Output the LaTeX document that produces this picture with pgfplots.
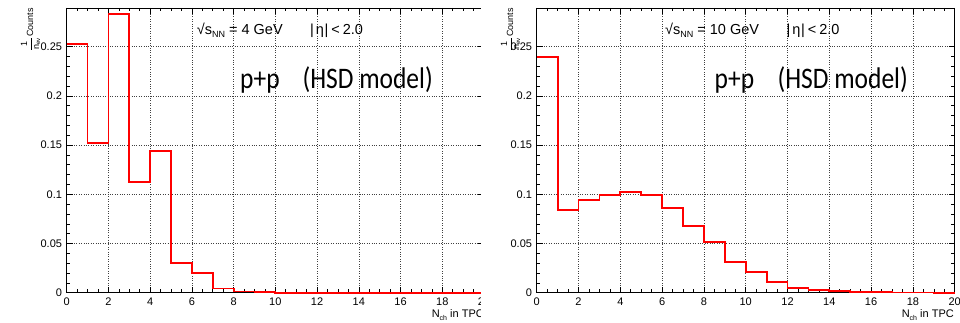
\documentclass[border=0pt]{standalone}
\usepackage{pgfplots}
\pgfplotsset{compat=1.18}
\usepackage{fontspec}
\setmainfont{Liberation Sans}
\newfontfamily\calibri{Carlito}

\pgfplotsset{
  rootstyle/.style={
    scale only axis, height=284.7pt,
    xmin=0, xmax=20, ymin=0, ymax=0.2893,
    axis line style={line width=0.8pt},
    xtick={0,2,4,6,8,10,12,14,16,18,20},
    xticklabels={0,2,4,6,8,10,12,14,16,18,20},
    ytick={0,0.05,0.1,0.15,0.2,0.25},
    yticklabels={0,0.05,0.1,0.15,0.2,0.25},
    minor x tick num=3, minor y tick num=4,
    tick align=inside,
    major tick length=6pt, minor tick length=3.5pt,
    every tick/.style={black, line width=0.6pt},
    grid=major, grid style={dotted, black!75, line width=0.5pt},
    tick label style={font=\fontsize{11}{13}\selectfont},
    xticklabel style={inner sep=0pt, yshift=-5pt},
    yticklabel style={inner sep=0pt, xshift=-4.5pt},
    clip=false,
  }
}
\newcommand{\ylab}{$\displaystyle\frac{\mathrm{1}}{\mathrm{n_{ev}}}$Counts}
\newcommand{\xlab}{N\raisebox{-2.5pt}{\fontsize{7}{7}\selectfont ch} in TPC}
\newcommand{\etalab}{|\hspace{2pt}η\hspace{0.5pt}|\hspace{3pt}<\hspace{3pt}2.0}
\newcommand{\tallbox}[1]{\scalebox{1}[1.17]{#1}}

\begin{document}
\begin{tikzpicture}
\path[use as bounding box] (0,0) rectangle (960pt,322pt);

% ---------------- left panel ----------------
\begin{axis}[rootstyle, width=417.3pt, at={(66.7pt,29.3pt)}, anchor=south west]
\addplot[const plot, red, line width=1.8pt] coordinates {
(0,0.253) (1,0.152) (2,0.2835) (3,0.1125) (4,0.144) (5,0.0302) (6,0.0200)
(7,0.0042) (8,0.0012) (9,0.0008) (10,0) (20,0)};
\end{axis}
\node[rotate=90, anchor=base east, inner sep=0pt, font=\fontsize{9}{10}\selectfont] at (33pt,314pt) {\ylab};
\node[anchor=base west, inner sep=0pt, font=\fontsize{14.5}{16}\selectfont] at (196.7pt,287.5pt) {√s\raisebox{-3pt}{\fontsize{9}{9}\selectfont NN} = 4 GeV};
\node[anchor=base west, inner sep=0pt, font=\fontsize{14.5}{16}\selectfont] at (310pt,287.5pt) {\etalab};
\node[anchor=base west, inner sep=0pt, font=\calibri\fontsize{25.5}{30}\selectfont] at (240pt,233.7pt) {\tallbox{p+p}};
\node[anchor=base east, inner sep=0pt, font=\calibri\fontsize{25.5}{30}\selectfont] at (433pt,233.7pt) {\tallbox{(HSD model)}};
\node[anchor=base east, inner sep=0pt, font=\fontsize{11}{13}\selectfont] at (484pt,4.5pt) {\xlab};

\fill[white] (481pt,0) rectangle (960pt,322pt);

% ---------------- right panel ----------------
\begin{axis}[rootstyle, width=418pt, at={(536.7pt,29.3pt)}, anchor=south west]
\addplot[const plot, red, line width=1.8pt] coordinates {
(0,0.2395) (1,0.0844) (2,0.0942) (3,0.0993) (4,0.1023) (5,0.0990) (6,0.0860)
(7,0.0680) (8,0.0518) (9,0.0315) (10,0.0207) (11,0.0109) (12,0.0051)
(13,0.0024) (14,0.0014) (15,0.0010) (16,0.0008) (17,0.0003) (18,0.0002)
(19,0.0001) (20,0.0001)};
\end{axis}
\node[rotate=90, anchor=base east, inner sep=0pt, font=\fontsize{9}{10}\selectfont] at (513pt,314pt) {\ylab};
\node[anchor=base west, inner sep=0pt, font=\fontsize{14.5}{16}\selectfont] at (665pt,287.5pt) {√s\raisebox{-3pt}{\fontsize{9}{9}\selectfont NN} = 10 GeV};
\node[anchor=base west, inner sep=0pt, font=\fontsize{14.5}{16}\selectfont] at (786.5pt,287.5pt) {\etalab};
\node[anchor=base west, inner sep=0pt, font=\calibri\fontsize{25.5}{30}\selectfont] at (714.5pt,233.7pt) {\tallbox{p+p}};
\node[anchor=base east, inner sep=0pt, font=\calibri\fontsize{25.5}{30}\selectfont] at (908pt,233.7pt) {\tallbox{(HSD model)}};
\node[anchor=base east, inner sep=0pt, font=\fontsize{11}{13}\selectfont] at (954pt,4.5pt) {\xlab};
\end{tikzpicture}
\end{document}
